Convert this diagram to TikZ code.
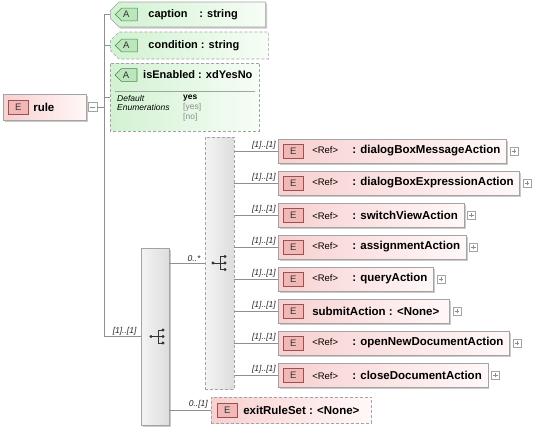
\documentclass[tikz,border=0pt]{standalone}
\usepackage{fontspec}
\setmainfont{Liberation Sans}
\usepackage{tikz}
\usetikzlibrary{positioning,shapes.misc,shadows}

\definecolor{lineg}{HTML}{8F8F8F}
\definecolor{boxg}{HTML}{A3A3A3}
\definecolor{elpink}{HTML}{F8D0D0}
\definecolor{elwhite}{HTML}{FFF8F8}
\definecolor{ebfill}{HTML}{F2B8B8}
\definecolor{ebdraw}{HTML}{9E4F4F}
\definecolor{atgreen}{HTML}{D2F2D2}
\definecolor{atwhite}{HTML}{F6FDF6}
\definecolor{abfill}{HTML}{BCE6BC}
\definecolor{abdraw}{HTML}{4A874A}
\definecolor{grpl}{HTML}{F4F4F4}
\definecolor{grpr}{HTML}{DDDDDD}

\newcommand{\elref}[1]{\hspace*{34pt}{\fontsize{9.5}{10}\selectfont\makebox[40pt][l]{<Ref>}}\textbf{: #1}\hspace*{6pt}}
\newcommand{\elname}[1]{\hspace*{34pt}\textbf{#1}\hspace*{10pt}}
\newcommand{\grpicon}[1]{%
  \begin{scope}[shift={#1}, black!80]
    \draw[line width=0.8pt] (-6,0) -- (1,0) (1,-6.5) -- (1,6.5)
      (1,-6.5) -- (6,-6.5) (1,6.5) -- (6,6.5) (1,0) -- (6,0);
    \fill (-6,0) circle[radius=1.7pt] (6,-6.5) circle[radius=1.7pt]
      (6,0) circle[radius=1.7pt] (6,6.5) circle[radius=1.7pt];
  \end{scope}}

\begin{document}
\begin{tikzpicture}[x=1pt, y=-1pt,
    conn/.style={draw=lineg, line width=0.6pt},
    optline/.style={dash pattern=on 3pt off 2pt},
    boxshadow/.style={drop shadow={shadow xshift=1.6pt, shadow yshift=-1.6pt, fill=black!35, opacity=.6}},
    elbox/.style={draw=boxg, line width=0.6pt, left color=elpink, right color=elwhite,
      inner sep=0pt, minimum height=24pt, anchor=west, font=\fontsize{11.5}{12}\selectfont},
    ebadge/.style={draw=ebdraw, fill=ebfill, line width=0.6pt, minimum width=20pt, minimum height=14pt,
      inner sep=0pt, font=\fontsize{9.5}{10}\selectfont, text=black!80},
    attr/.style={chamfered rectangle, chamfered rectangle corners={north west,south west},
      chamfered rectangle xsep=8pt, draw=boxg, line width=0.6pt, left color=atgreen, right color=atwhite,
      inner sep=0pt, anchor=west, font=\fontsize{11}{12}\selectfont},
    abadge/.style={chamfered rectangle, chamfered rectangle corners={north west,south west},
      chamfered rectangle xsep=3.5pt, draw=abdraw, fill=abfill, line width=0.6pt, minimum width=22pt,
      minimum height=12pt, inner sep=0pt, font=\fontsize{9.5}{10}\selectfont, text=black!80},
    attrtxt/.style={anchor=west, inner sep=0pt, font=\fontsize{11}{12}\selectfont\bfseries},
    facet/.style={anchor=west, inner sep=0pt, font=\fontsize{8.5}{9}\selectfont\itshape},
    fval/.style={anchor=west, inner sep=0pt, font=\fontsize{8.5}{9}\selectfont},
    grp/.style={draw=boxg, line width=0.6pt, left color=grpl, right color=grpr, inner sep=0pt},
    card/.style={font=\fontsize{8.5}{9}\selectfont\itshape, inner sep=1pt, text=black!85},
    plusbox/.style={draw=boxg, fill=white, minimum size=8pt, inner sep=0pt,
      path picture={\draw[black!45] ([xshift=1.8pt]path picture bounding box.west) -- ([xshift=-1.8pt]path picture bounding box.east)
        ([yshift=-1.8pt]path picture bounding box.north) -- ([yshift=1.8pt]path picture bounding box.south);}},
    minusbox/.style={draw=boxg, fill=white, minimum size=9pt, inner sep=0pt,
      path picture={\draw[black!45] ([xshift=2pt]path picture bounding box.west) -- ([xshift=-2pt]path picture bounding box.east);}}]
  \useasboundingbox (0,0) rectangle (536,429);

  % rule
  \node[elbox, boxshadow, minimum height=26pt] (rule) at (3,107) {\makebox[83pt][l]{\hspace*{30pt}\textbf{rule}}};
  \node[ebadge, right=5pt of rule.west] (ruleE) {E};
  \node[minusbox, right=1pt of rule] (rulemin) {};
  \coordinate (trunk) at (104,107);

  % attributes
  \node[attr, boxshadow, minimum width=145pt, minimum height=25pt] (caption) at (110,14.5)
    {\makebox[145pt][l]{\hspace*{33pt}\textbf{\makebox[51pt][l]{caption}: string}}};
  \node[abadge, right=5pt of caption.west] (captionA) {A};
  \node[attr, optline, minimum width=148pt, minimum height=27pt] (condition) at (110,45.5)
    {\makebox[148pt][l]{\hspace*{33pt}\textbf{condition : string}}};
  \node[abadge, right=5pt of condition.west] (conditionA) {A};
  \node[attr, optline, minimum width=149pt, minimum height=68pt] (isen) at (110,97) {};
  \node[abadge] (isenA) at (126,75) {A};
  \node[attrtxt] (isenT) at (143,75) {isEnabled : xdYesNo};
  \draw[boxg, line width=0.6pt] (115,91) -- (255,91);
  % facets
  \node[facet] (dflt) at (117,98) {Default};
  \node[facet] (enums) at (117,107.5) {Enumerations};
  \node[fval] (vdflt) at (183,98) {\textbf{yes}};
  \node[fval, text=black!45] (vyes) at (183,107.5) {[yes]};
  \node[fval, text=black!45] (vno) at (183,117) {[no]};

  % sequence and choice
  \node[grp, boxshadow, minimum width=28pt, minimum height=177pt] (seq) at (155,336.5) {};
  \grpicon{([xshift=2pt]seq.center)}
  \node[grp, optline, minimum width=29pt, minimum height=252pt] (choice) at (219.5,263) {};
  \grpicon{([xshift=-0.5pt]choice.center)}

  % |
  \draw[conn] (rulemin) -- (trunk);
  \draw[conn] (trunk |- caption.west) -- (trunk |- seq.west);
  \draw[conn] (trunk |- caption.west) -- (caption.west);
  \draw[conn] (trunk |- condition.west) -- (condition.west);
  \draw[conn] (trunk |- isen.west) -- (isen.west);
  \draw[conn] (trunk |- seq.west) -- node[card, pos=1, above left, xshift=-3pt] (cseq) {[1]..[1]} (seq.west);

  % choice children
  \node[elbox, boxshadow] (msg) at (278,151) {\elref{dialogBoxMessageAction}};
  \node[elbox, boxshadow] (expr) at (278,183) {\elref{dialogBoxExpressionAction}};
  \node[elbox, boxshadow] (switch) at (278,215) {\elref{switchViewAction}};
  \node[elbox, boxshadow] (assign) at (278,247) {\elref{assignmentAction}};
  \node[elbox, boxshadow] (query) at (278,279) {\elref{queryAction}};
  \node[elbox, boxshadow] (submit) at (278,311) {\elname{submitAction : <None>}};
  \node[elbox, boxshadow] (opendoc) at (278,343) {\elref{openNewDocumentAction}};
  \node[elbox, boxshadow] (closedoc) at (278,375) {\elref{closeDocumentAction}};
  % E
  \node[ebadge, right=5pt of msg.west] (msgE) {E};
  \node[ebadge, right=5pt of expr.west] (exprE) {E};
  \node[ebadge, right=5pt of switch.west] (switchE) {E};
  \node[ebadge, right=5pt of assign.west] (assignE) {E};
  \node[ebadge, right=5pt of query.west] (queryE) {E};
  \node[ebadge, right=5pt of submit.west] (submitE) {E};
  \node[ebadge, right=5pt of opendoc.west] (opendocE) {E};
  \node[ebadge, right=5pt of closedoc.west] (closedocE) {E};
  % +
  \node[plusbox, right=3pt of msg] (msgP) {};
  \node[plusbox, right=3pt of expr] (exprP) {};
  \node[plusbox, right=3pt of switch] (switchP) {};
  \node[plusbox, right=3pt of assign] (assignP) {};
  \node[plusbox, right=3pt of query] (queryP) {};
  \node[plusbox, right=3pt of submit] (submitP) {};
  \node[plusbox, right=3pt of opendoc] (opendocP) {};
  \node[plusbox, right=3pt of closedoc] (closedocP) {};

  \draw[conn] (choice.east |- msg.west) -- node[card, pos=1, above left, xshift=-1pt] (cmsg) {[1]..[1]} (msg.west);
  \draw[conn] (choice.east |- expr.west) -- node[card, pos=1, above left, xshift=-1pt] (cexpr) {[1]..[1]} (expr.west);
  \draw[conn] (choice.east |- switch.west) -- node[card, pos=1, above left, xshift=-1pt] (cswitch) {[1]..[1]} (switch.west);
  \draw[conn] (choice.east |- assign.west) -- node[card, pos=1, above left, xshift=-1pt] (cassign) {[1]..[1]} (assign.west);
  \draw[conn] (choice.east |- query.west) -- node[card, pos=1, above left, xshift=-1pt] (cquery) {[1]..[1]} (query.west);
  \draw[conn] (choice.east |- submit.west) -- node[card, pos=1, above left, xshift=-1pt] (csubmit) {[1]..[1]} (submit.west);
  \draw[conn] (choice.east |- opendoc.west) -- node[card, pos=1, above left, xshift=-1pt] (copendoc) {[1]..[1]} (opendoc.west);
  \draw[conn] (choice.east |- closedoc.west) -- node[card, pos=1, above left, xshift=-1pt] (cclosedoc) {[1]..[1]} (closedoc.west);

  % exitRuleSet
  \node[elbox, optline, minimum height=26pt] (exit) at (211,410) {\hspace*{32pt}\textbf{exitRuleSet : <None>}\hspace*{12pt}};
  \node[ebadge, right=6pt of exit.west] (exitE) {E};

  \draw[conn] (seq.east |- choice.west) -- node[card, pos=1, above left, xshift=-3pt] (cchoice) {0..*} (choice.west);
  \draw[conn] (seq.east |- exit.west) -- node[card, pos=1, above left, xshift=-2pt] (cexit) {0..[1]} (exit.west);
\end{tikzpicture}
\end{document}
